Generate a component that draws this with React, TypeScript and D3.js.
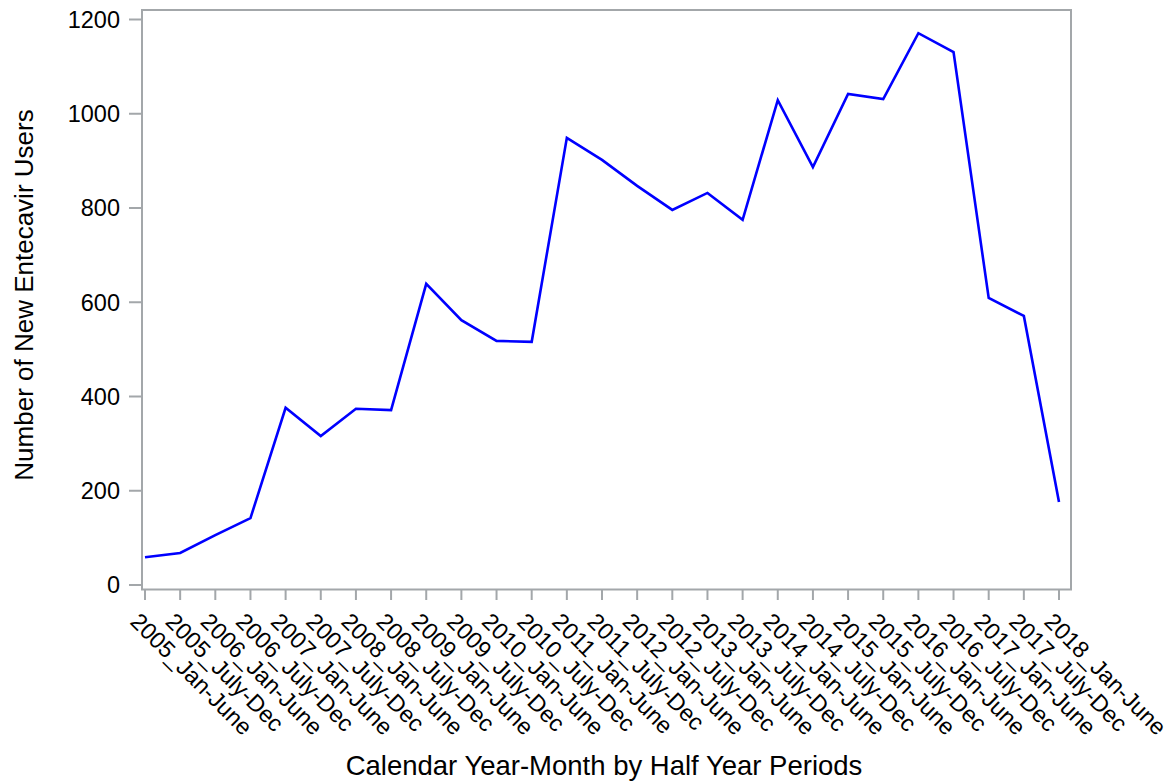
import React from "react";
import * as d3 from "d3";

const years = [2005, 2006, 2007, 2008, 2009, 2010, 2011, 2012, 2013, 2014, 2015, 2016, 2017, 2018];
const halves = ["Jan-June", "July-Dec"];
const categories: string[] = [];
years.forEach((y) => halves.forEach((h) => categories.push(`${y}_${h}`)));
categories.splice(categories.indexOf("2018_July-Dec"), 1);

const newUsers = [
  59, 68, 106, 142, 376, 316, 374, 371, 639, 562, 518, 516, 949, 902, 847, 796, 832, 775,
  1029, 887, 1042, 1031, 1171, 1131, 609, 571, 176,
];

const yTicks = [0, 200, 400, 600, 800, 1000, 1200];
const yTitle = "Number of New Entecavir Users";
const xTitle = "Calendar Year-Month by Half Year Periods";

const W = 1171;
const H = 784;
const frame = { left: 142, right: 1071, top: 10, bottom: 589.5 };
const FONT = "'Liberation Sans', Arial, sans-serif";
const AXIS = "#a3a7aa";

export default function App() {
  const x = d3.scalePoint<string>().domain(categories).range([145, 1059]);
  const y = d3.scaleLinear().domain([0, 1200]).range([585, 19.5]);
  const line = d3
    .line<number>()
    .x((_, i) => x(categories[i]) as number)
    .y((d) => y(d));

  return (
    <svg
      width={W}
      height={H}
      style={{ position: "absolute", left: 0, top: 0, background: "#fff" }}
      fontFamily={FONT}
    >
      <rect x={0} y={0} width={W} height={H} fill="#fff" />
      <rect
        x={frame.left}
        y={frame.top}
        width={frame.right - frame.left}
        height={frame.bottom - frame.top}
        fill="none"
        stroke={AXIS}
        strokeWidth={2}
      />
      {yTicks.map((t) => (
        <g key={t}>
          <line x1={129} x2={frame.left} y1={y(t)} y2={y(t)} stroke={AXIS} strokeWidth={2} />
          <text x={120} y={y(t)} dy="0.36em" textAnchor="end" fontSize={23.5} fill="#000">
            {t}
          </text>
        </g>
      ))}
      {categories.map((c) => {
        const cx = x(c) as number;
        return (
          <g key={c}>
            <line x1={cx} x2={cx} y1={frame.bottom} y2={600} stroke={AXIS} strokeWidth={2} />
            <text
              transform={`translate(${cx - 16},${623}) rotate(45)`}
              textAnchor="start"
              fontSize={23.3}
              fill="#000"
            >
              {c}
            </text>
          </g>
        );
      })}
      <path d={line(newUsers) ?? ""} fill="none" stroke="#0000ff" strokeWidth={2.6} strokeLinejoin="miter" />
      <text
        transform={`translate(33,${295}) rotate(-90)`}
        textAnchor="middle"
        fontSize={26}
        fill="#000"
      >
        {yTitle}
      </text>
      <text x={604} y={775} textAnchor="middle" fontSize={27.5} fill="#000">
        {xTitle}
      </text>
    </svg>
  );
}
